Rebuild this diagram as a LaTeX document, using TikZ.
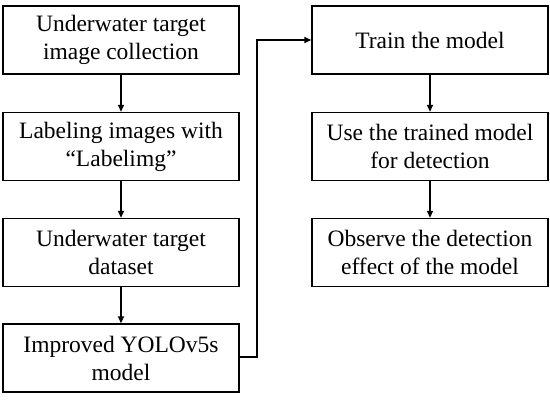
\documentclass[tikz,border=0pt]{standalone}
\usepackage{fontspec}
\setmainfont{Liberation Serif}
\usetikzlibrary{arrows.meta}
\begin{document}
\begin{tikzpicture}[x=1pt,y=-1pt,
  box/.style={draw, line width=1.4pt, minimum width=236pt, minimum height=68pt, inner sep=0pt, align=center, font=\fontsize{23.5}{28}\selectfont},
  arr/.style={line width=1.4pt, -{Triangle[length=7pt,width=6pt]}}]
\useasboundingbox (0,0) rectangle (550,402);
\node[box] (l1) at (121,40) {Underwater target\\image collection};
\node[box] (l2) at (121,146.5) {Labeling images with\\“Labelimg”};
\node[box] (l3) at (121,252.5) {Underwater target\\dataset};
\node[box] (l4) at (121,358) {Improved YOLOv5s\\model};
\node[box] (r1) at (430,40) {Train the model};
\node[box] (r2) at (430,146.5) {Use the trained model\\for detection};
\node[box] (r3) at (430,252.5) {Observe the detection\\effect of the model};
\coordinate (c1) at (257,357);
\coordinate (c2) at (257,40);
\draw[arr] (l1) -- (l2);
\draw[arr] (l2) -- (l3);
\draw[arr] (l3) -- (l4);
\draw[arr] (r1) -- (r2);
\draw[arr] (r2) -- (r3);
\draw[arr] (l4.east |- c1) -- (c1) -- (c2) -- (r1.west);
\end{tikzpicture}
\end{document}
